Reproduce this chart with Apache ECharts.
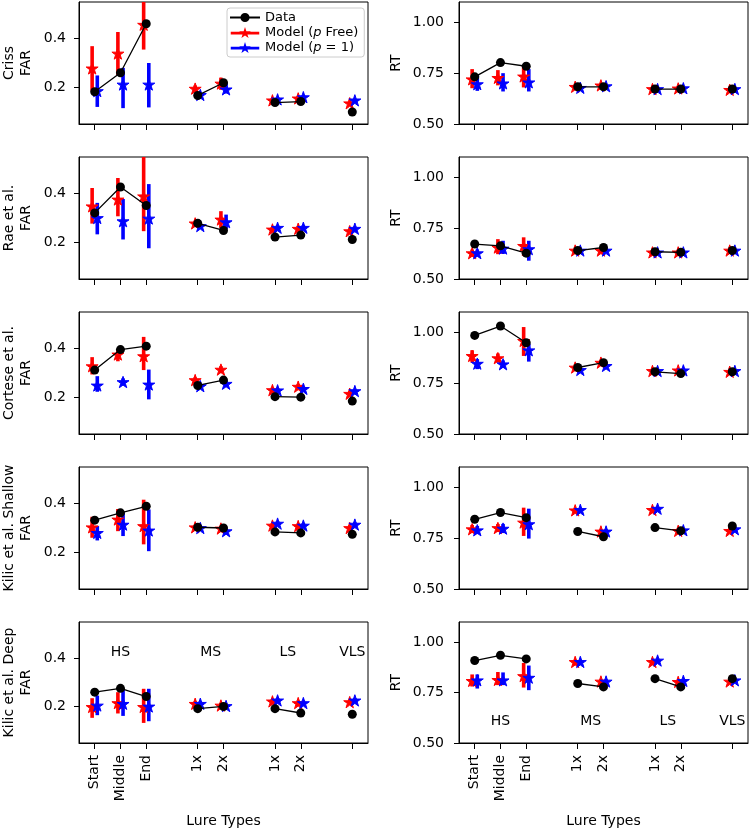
<!DOCTYPE html>
<html>
<head>
<meta charset="utf-8">
<script src="https://cdn.jsdelivr.net/npm/echarts@6/dist/echarts.min.js"></script>
<style>html,body{margin:0;padding:0;background:#fff;}#chart{width:750px;height:829px;}</style>
</head>
<body>
<div id="chart"></div>
<script>
// ---------- data ----------
const studies = ['Criss', 'Rae et al.', 'Cortese et al.', 'Kilic et al. Shallow', 'Kilic et al. Deep'];
const xPos = [0, 1, 2, 4, 5, 7, 8, 10];
const xTickLabels = ['Start', 'Middle', 'End', '1x', '2x', '1x', '2x', ''];
const lineGroups = [[0, 1, 2], [3, 4], [5, 6], [7]];
const groupNames = ['HS', 'MS', 'LS', 'VLS'];
const groupLabelX = [1, 4.5, 7.5, 10];
const groupLabelYFar = 0.424;
const groupLabelYRt = 0.606;
const farTicks = [0.2, 0.4];
const rtTicks = [0.5, 0.75, 1.0];

const farData = [
  [0.182, 0.260, 0.461, 0.167, 0.219, 0.138, 0.142, 0.099],
  [0.321, 0.427, 0.351, 0.278, 0.249, 0.222, 0.230, 0.212],
  [0.312, 0.396, 0.410, 0.249, 0.271, 0.203, 0.201, 0.185],
  [0.332, 0.362, 0.389, 0.303, 0.300, 0.284, 0.280, 0.274],
  [0.260, 0.276, 0.242, 0.192, 0.201, 0.192, 0.174, 0.169]
];
const farFree = [
  [0.278, 0.339, 0.457, 0.195, 0.216, 0.147, 0.155, 0.135],
  [0.348, 0.376, 0.389, 0.278, 0.294, 0.253, 0.256, 0.246],
  [0.328, 0.376, 0.369, 0.271, 0.314, 0.230, 0.244, 0.215],
  [0.303, 0.335, 0.308, 0.303, 0.298, 0.310, 0.308, 0.300],
  [0.199, 0.215, 0.199, 0.212, 0.205, 0.222, 0.215, 0.219]
];
const farFreeLo = [
  [0.187, 0.251, 0.355, 0.182, 0.190, 0.138, 0.145, 0.128],
  [0.277, 0.307, 0.246, 0.268, 0.260, 0.243, 0.245, 0.236],
  [0.294, 0.348, 0.312, 0.260, 0.300, 0.220, 0.234, 0.205],
  [0.260, 0.287, 0.233, 0.295, 0.290, 0.300, 0.298, 0.290],
  [0.154, 0.172, 0.133, 0.202, 0.195, 0.212, 0.205, 0.209]
];
const farFreeHi = [
  [0.369, 0.427, 0.570, 0.208, 0.240, 0.156, 0.165, 0.142],
  [0.423, 0.464, 0.570, 0.288, 0.328, 0.263, 0.267, 0.256],
  [0.365, 0.396, 0.448, 0.282, 0.328, 0.240, 0.254, 0.225],
  [0.346, 0.378, 0.416, 0.311, 0.306, 0.320, 0.318, 0.310],
  [0.235, 0.260, 0.274, 0.222, 0.215, 0.232, 0.225, 0.229]
];
const farP1 = [
  [0.185, 0.212, 0.212, 0.169, 0.192, 0.151, 0.160, 0.147],
  [0.300, 0.287, 0.298, 0.267, 0.283, 0.260, 0.260, 0.256],
  [0.249, 0.263, 0.253, 0.246, 0.256, 0.229, 0.235, 0.226],
  [0.280, 0.314, 0.290, 0.300, 0.287, 0.318, 0.310, 0.314],
  [0.205, 0.212, 0.201, 0.212, 0.203, 0.226, 0.215, 0.226]
];
const farP1Lo = [
  [0.120, 0.115, 0.118, 0.160, 0.175, 0.143, 0.151, 0.140],
  [0.233, 0.212, 0.176, 0.258, 0.253, 0.250, 0.250, 0.247],
  [0.223, 0.250, 0.192, 0.237, 0.245, 0.220, 0.226, 0.217],
  [0.249, 0.267, 0.205, 0.292, 0.278, 0.308, 0.300, 0.305],
  [0.165, 0.162, 0.140, 0.202, 0.194, 0.216, 0.205, 0.216]
];
const farP1Hi = [
  [0.249, 0.280, 0.300, 0.178, 0.220, 0.159, 0.169, 0.154],
  [0.362, 0.378, 0.439, 0.276, 0.314, 0.270, 0.270, 0.265],
  [0.287, 0.278, 0.314, 0.255, 0.267, 0.238, 0.244, 0.235],
  [0.308, 0.362, 0.376, 0.308, 0.296, 0.328, 0.320, 0.323],
  [0.246, 0.271, 0.274, 0.222, 0.212, 0.236, 0.225, 0.236]
];

const rtData = [
  [0.732, 0.802, 0.784, 0.683, 0.683, 0.672, 0.672, 0.672],
  [0.672, 0.663, 0.627, 0.640, 0.655, 0.634, 0.631, 0.640],
  [0.985, 1.031, 0.949, 0.827, 0.851, 0.806, 0.797, 0.806],
  [0.843, 0.876, 0.851, 0.783, 0.757, 0.802, 0.786, 0.810],
  [0.909, 0.935, 0.917, 0.795, 0.778, 0.819, 0.778, 0.819]
];
const rtFree = [
  [0.720, 0.727, 0.734, 0.683, 0.690, 0.672, 0.675, 0.668],
  [0.627, 0.655, 0.663, 0.640, 0.640, 0.631, 0.631, 0.640],
  [0.884, 0.873, 0.958, 0.827, 0.851, 0.810, 0.813, 0.806],
  [0.794, 0.800, 0.827, 0.887, 0.783, 0.889, 0.786, 0.786],
  [0.808, 0.813, 0.832, 0.902, 0.805, 0.902, 0.803, 0.805]
];
const rtFreeLo = [
  [0.676, 0.690, 0.680, 0.673, 0.680, 0.662, 0.665, 0.658],
  [0.610, 0.622, 0.614, 0.630, 0.630, 0.621, 0.621, 0.630],
  [0.851, 0.851, 0.884, 0.817, 0.841, 0.800, 0.803, 0.796],
  [0.775, 0.780, 0.761, 0.877, 0.773, 0.879, 0.776, 0.776],
  [0.780, 0.787, 0.775, 0.892, 0.795, 0.892, 0.793, 0.795]
];
const rtFreeHi = [
  [0.770, 0.765, 0.786, 0.693, 0.700, 0.682, 0.685, 0.678],
  [0.645, 0.696, 0.705, 0.650, 0.650, 0.641, 0.641, 0.650],
  [0.912, 0.896, 1.026, 0.837, 0.861, 0.820, 0.823, 0.816],
  [0.815, 0.820, 0.900, 0.897, 0.793, 0.899, 0.796, 0.796],
  [0.840, 0.852, 0.897, 0.912, 0.815, 0.912, 0.813, 0.815]
];
const rtP1 = [
  [0.696, 0.700, 0.705, 0.678, 0.686, 0.672, 0.676, 0.672],
  [0.627, 0.650, 0.647, 0.640, 0.640, 0.631, 0.631, 0.640],
  [0.846, 0.843, 0.912, 0.815, 0.835, 0.810, 0.813, 0.810],
  [0.789, 0.797, 0.819, 0.889, 0.783, 0.895, 0.789, 0.794],
  [0.811, 0.811, 0.824, 0.902, 0.805, 0.909, 0.808, 0.811]
];
const rtP1Lo = [
  [0.663, 0.660, 0.660, 0.668, 0.676, 0.662, 0.666, 0.662],
  [0.610, 0.623, 0.590, 0.630, 0.630, 0.621, 0.621, 0.630],
  [0.819, 0.825, 0.856, 0.805, 0.825, 0.800, 0.803, 0.800],
  [0.770, 0.775, 0.748, 0.879, 0.773, 0.885, 0.779, 0.784],
  [0.770, 0.787, 0.762, 0.892, 0.795, 0.899, 0.798, 0.801]
];
const rtP1Hi = [
  [0.745, 0.750, 0.770, 0.688, 0.696, 0.682, 0.686, 0.682],
  [0.645, 0.688, 0.688, 0.650, 0.650, 0.641, 0.641, 0.650],
  [0.868, 0.862, 0.944, 0.825, 0.845, 0.820, 0.823, 0.820],
  [0.810, 0.820, 0.895, 0.899, 0.793, 0.905, 0.799, 0.804],
  [0.840, 0.850, 0.884, 0.912, 0.815, 0.919, 0.818, 0.821]
];

// ---------- styling ----------
const FONT = 'DejaVu Sans';
const FS = 14;
const RED = '#ff0000', BLUE = '#0000ff', BLACK = '#000000';
const modelOffset = 0.1;
const gridLefts = [77, 459];
const gridWidths = [291, 289];
const gridTops = [2, 157, 312, 467, 622];
const gridHeight = 122;

function starPathStr(cx, cy, R) {
  let d = '';
  for (let k = 0; k < 10; k++) {
    const a = (-90 + 36 * k) * Math.PI / 180;
    const r = (k % 2) ? R * 0.381966 : R;
    d += (k ? 'L' : 'M') + (cx + Math.cos(a) * r).toFixed(3) + ' ' + (cy + Math.sin(a) * r).toFixed(3);
  }
  return d + 'Z';
}
const STAR = 'path://' + starPathStr(0, 0, 10);
const lineRectThin = 'M0 4.9L30 4.9L30 7.1L0 7.1Z';
const lineRectThick = 'M0 4.6L30 4.6L30 7.4L0 7.4Z';
const ICON_STAR = 'path://' + lineRectThick + starPathStr(15, 6, 6.4);
const ICON_CIRCLE = 'path://' + lineRectThin + 'M15 1.4A4.6 4.6 0 1 1 15 10.6A4.6 4.6 0 1 1 15 1.4Z';

function errRender(color) {
  return function (params, api) {
    const a = api.coord([api.value(0), api.value(1)]);
    const b = api.coord([api.value(0), api.value(2)]);
    return {
      type: 'line',
      shape: { x1: a[0], y1: a[1], x2: b[0], y2: b[1] },
      style: { stroke: color, lineWidth: 3.6 }
    };
  };
}

const option = {
  animation: false,
  backgroundColor: '#fff',
  grid: [], xAxis: [], yAxis: [], series: [],
  legend: {
    orient: 'vertical', left: 227, top: 8,
    itemWidth: 30, itemHeight: 11, itemGap: 2,
    padding: [3, 6, 3, 3],
    backgroundColor: 'rgba(255,255,255,0.85)',
    borderColor: '#cccccc', borderWidth: 1, borderRadius: 3,
    selectedMode: false,
    itemStyle: { borderWidth: 0 },
    lineStyle: { width: 0 },
    textStyle: { fontSize: 13, color: '#000', fontFamily: FONT,
      rich: { i: { fontStyle: 'italic', fontSize: 13, color: '#000', fontFamily: FONT } } },
    formatter: name => name.replace('(p', '({i|p}'),
    data: [
      { name: 'Data', icon: ICON_CIRCLE },
      { name: 'Model (p Free)', icon: ICON_STAR },
      { name: 'Model (p = 1)', icon: ICON_STAR }
    ]
  }
};

for (let r = 0; r < 5; r++) {
  for (let c = 0; c < 2; c++) {
    const idx = r * 2 + c;
    const isFar = c === 0;
    const bottom = r === 4;
    option.grid.push({
      left: gridLefts[c], top: gridTops[r], width: gridWidths[c], height: gridHeight,
      show: true, borderColor: '#000', borderWidth: 1, backgroundColor: 'transparent'
    });
    option.xAxis.push({
      gridIndex: idx, type: 'value', min: -0.61, max: 10.61,
      splitLine: { show: false },
      axisLine: { show: true, onZero: false, lineStyle: { color: '#000', width: 1 } },
      axisTick: { show: true, customValues: xPos, length: 6, lineStyle: { color: '#000', width: 1 } },
      axisLabel: {
        show: bottom, customValues: xPos, rotate: 90, margin: 12,
        fontSize: FS, color: '#000', fontFamily: FONT,
        formatter: v => { const i = xPos.indexOf(v); return i >= 0 ? xTickLabels[i] : ''; }
      },
      name: bottom ? 'Lure Types' : '', nameLocation: 'middle', nameGap: 71,
      nameTextStyle: { fontSize: FS, color: '#000', fontFamily: FONT }
    });
    option.yAxis.push({
      gridIndex: idx, type: 'value',
      min: isFar ? 0.05 : 0.5, max: isFar ? 0.55 : 1.1,
      splitLine: { show: false },
      axisLine: { show: true, onZero: false, lineStyle: { color: '#000', width: 1 } },
      axisTick: { show: true, customValues: isFar ? farTicks : rtTicks, length: 5, lineStyle: { color: '#000', width: 1 } },
      axisLabel: {
        customValues: isFar ? farTicks : rtTicks, margin: isFar ? 13 : 15,
        fontSize: FS, color: '#000', fontFamily: FONT,
        formatter: v => isFar ? v.toFixed(1) : v.toFixed(2)
      },
      name: isFar ? studies[r] + '\nFAR' : 'RT', nameLocation: 'middle',
      nameGap: isFar ? 44 : 54, nameRotate: 90,
      nameTextStyle: { fontSize: FS, lineHeight: 17, color: '#000', fontFamily: FONT }
    });

    const d = isFar ? farData[r] : rtData[r];
    const f = isFar ? farFree[r] : rtFree[r];
    const fl = isFar ? farFreeLo[r] : rtFreeLo[r];
    const fh = isFar ? farFreeHi[r] : rtFreeHi[r];
    const p = isFar ? farP1[r] : rtP1[r];
    const pl = isFar ? farP1Lo[r] : rtP1Lo[r];
    const ph = isFar ? farP1Hi[r] : rtP1Hi[r];

    // red error bars + stars
    option.series.push({
      type: 'custom', xAxisIndex: idx, yAxisIndex: idx, silent: true, clip: true,
      renderItem: errRender(RED), encode: { x: 0, y: [1, 2] },
      data: xPos.map((x, i) => [x - modelOffset, fl[i], fh[i]])
    });
    option.series.push({
      name: 'Model (p Free)', type: 'scatter', xAxisIndex: idx, yAxisIndex: idx,
      symbol: STAR, symbolSize: 12, symbolKeepAspect: true, silent: true,
      itemStyle: { color: RED, opacity: 1, borderColor: RED, borderWidth: 1 },
      data: xPos.map((x, i) => [x - modelOffset, f[i]])
    });
    // data line with gaps between groups
    const lineData = [];
    lineGroups.forEach(g => {
      g.forEach(i => lineData.push([xPos[i], d[i]]));
      lineData.push([xPos[g[g.length - 1]] + 0.5, null]);
    });
    option.series.push({
      name: 'Data', type: 'line', xAxisIndex: idx, yAxisIndex: idx, silent: true,
      symbol: 'circle', symbolSize: 9, showAllSymbol: true, connectNulls: false,
      lineStyle: { color: BLACK, width: 1.3 }, itemStyle: { color: BLACK },
      data: lineData
    });
    // blue error bars + stars
    option.series.push({
      type: 'custom', xAxisIndex: idx, yAxisIndex: idx, silent: true, clip: true,
      renderItem: errRender(BLUE), encode: { x: 0, y: [1, 2] },
      data: xPos.map((x, i) => [x + modelOffset, pl[i], ph[i]])
    });
    option.series.push({
      name: 'Model (p = 1)', type: 'scatter', xAxisIndex: idx, yAxisIndex: idx,
      symbol: STAR, symbolSize: 12, symbolKeepAspect: true, silent: true,
      itemStyle: { color: BLUE, opacity: 1, borderColor: BLUE, borderWidth: 1 },
      data: xPos.map((x, i) => [x + modelOffset, p[i]])
    });
    if (bottom) {
      option.series.push({
        type: 'scatter', xAxisIndex: idx, yAxisIndex: idx, silent: true,
        symbolSize: 0, itemStyle: { opacity: 1 },
        label: { show: true, position: 'inside', formatter: q => q.data[2],
          fontSize: FS, color: '#000', opacity: 1, textBorderWidth: 0, fontFamily: FONT },
        data: groupLabelX.map((x, i) => [x, isFar ? groupLabelYFar : groupLabelYRt, groupNames[i]])
      });
    }
  }
}

const chart = echarts.init(document.getElementById('chart'), null, { renderer: 'canvas' });
chart.setOption(option);
</script>
</body>
</html>
